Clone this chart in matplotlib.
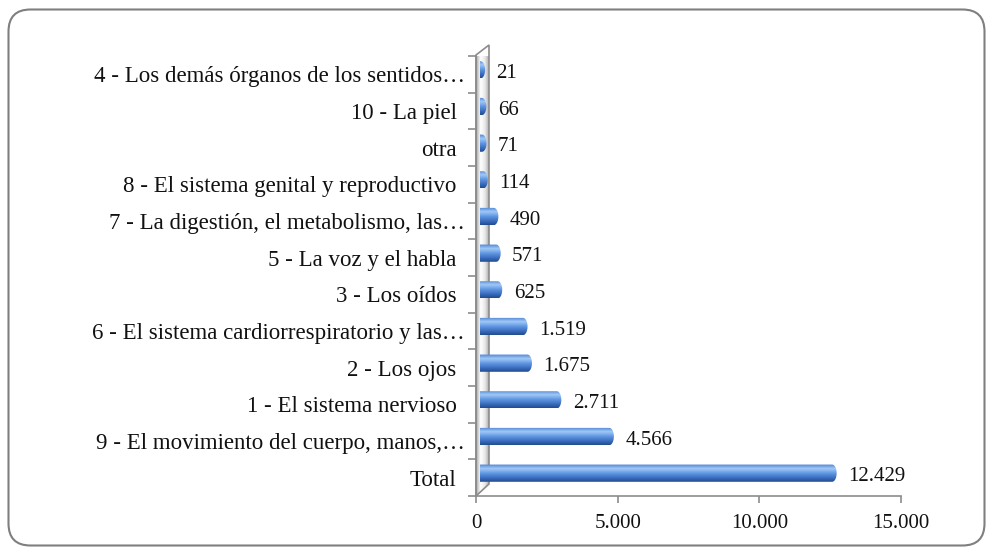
import numpy as np
import matplotlib
matplotlib.use("Agg")
import matplotlib.pyplot as plt
from matplotlib.patches import Polygon, FancyBboxPatch
from matplotlib.colors import LinearSegmentedColormap
from matplotlib.transforms import ScaledTranslation, IdentityTransform

plt.rcParams['font.family'] = ['Liberation Serif', 'DejaVu Serif']

categorias = [
    "Total",
    "9 - El movimiento del cuerpo, manos,…",
    "1 - El sistema nervioso",
    "2 - Los ojos",
    "6 - El sistema cardiorrespiratorio y las…",
    "3 - Los oídos",
    "5 - La voz y el habla",
    "7 - La digestión, el metabolismo, las…",
    "8 - El sistema genital y reproductivo",
    "otra",
    "10 - La piel",
    "4 - Los demás órganos de los sentidos…",
]
valores = [12429, 4566, 2711, 1675, 1519, 625, 571, 490, 114, 71, 66, 21]
xticks = [0, 5000, 10000, 15000]

W, H = 986, 548
fig = plt.figure(figsize=(W / 100, H / 100), dpi=100)
ax_l, ax_b, ax_w, ax_h = 476, 52, 425, 440
ax = fig.add_axes([ax_l / W, ax_b / H, ax_w / W, ax_h / H])
ax.patch.set_visible(False)

xmax = 15000
ax.set_xlim(0, xmax)
ax.set_ylim(-0.5, len(categorias) - 0.5)

# pseudo 3D offset of the bars (pixels)
off = ax.transData + ScaledTranslation(4 / 100, 4.5 / 100, fig.dpi_scale_trans)

bar_cmap = LinearSegmentedColormap.from_list(
    "barra", [(0, "#4a82d4"), (0.25, "#a2c9f6"), (0.5, "#6399e4"),
              (0.8, "#3769bb"), (1, "#224c8a")])
wall_cmap = LinearSegmentedColormap.from_list(
    "pared", [(0, "#a8a8a8"), (0.35, "#ffffff"), (0.7, "#e8e8e8"), (1, "#b0b0b0")])

grad = np.linspace(0, 1, 64).reshape(-1, 1)
h = 0.47
cap = 4.5 * xmax / ax_w  # half width of rounded end in data units

for i, v in enumerate(valores):
    t = np.linspace(-np.pi / 2, np.pi / 2, 40)
    verts = [(0, i - h / 2)] + list(zip(v + cap * np.cos(t), i + h / 2 * np.sin(t))) + [(0, i + h / 2)]
    poly = Polygon(verts, closed=True, facecolor="none", edgecolor="none", transform=off, zorder=3)
    ax.add_patch(poly)
    im = ax.imshow(grad, cmap=bar_cmap, aspect="auto", extent=[0, v + cap, i - h / 2, i + h / 2],
                   origin="upper", interpolation="bilinear", transform=off, zorder=3)
    im.set_clip_path(poly)
    ax.annotate(f"{v:,}".replace(",", "."), (v, i), xytext=(20 * 0.72, 0.5),
                textcoords="offset points", va="center", ha="left", fontsize=15, color="#111111")

# side wall
dx = 13 / ax_w
wall = [(0, 0), (dx, 12 / ax_h), (dx, 1 + 11 / ax_h), (0, 1 + 1 / ax_h)]
wp = Polygon(wall, closed=True, transform=ax.transAxes, facecolor="none",
             edgecolor="#8c8c8c", lw=1.2, zorder=2, clip_on=False)
ax.add_patch(wp)
wim = ax.imshow(np.linspace(0, 1, 32).reshape(1, -1), cmap=wall_cmap, aspect="auto",
                extent=[0, dx, 0, 1 + 11 / ax_h], transform=ax.transAxes, zorder=1.5)
wim.set_clip_path(wp)
ax.set_xlim(0, xmax)
ax.set_ylim(-0.5, len(categorias) - 0.5)

for s in ["top", "right"]:
    ax.spines[s].set_visible(False)
for s in ["left", "bottom"]:
    ax.spines[s].set_color("#8c8c8c")
    ax.spines[s].set_linewidth(1.2)

ax.set_yticks(range(len(categorias)))
ax.set_yticklabels(categorias, fontsize=16.5, color="#111111")
ax.set_yticks(np.arange(-0.5, len(categorias), 1), minor=True)
ax.tick_params(axis="y", which="major", length=0, pad=14)
ax.tick_params(axis="y", which="minor", length=6, width=1.2, color="#8c8c8c", direction="out")
ax.set_xticks(xticks)
ax.set_xticklabels([f"{x:,}".replace(",", ".") for x in xticks], fontsize=15, color="#111111")
ax.tick_params(axis="x", length=5, width=1.2, color="#8c8c8c", pad=8)

# truncated labels run a bit closer to the axis
for lab in ax.get_yticklabels():
    if lab.get_text().endswith("…"):
        lab.set_transform(lab.get_transform() + ScaledTranslation(8 / 100, 0, fig.dpi_scale_trans))

border = FancyBboxPatch((8.5, 2.5), 976, 536, boxstyle="round,pad=0,rounding_size=22",
                        transform=IdentityTransform(), facecolor="none", edgecolor="#7f7f7f", lw=1.5)
fig.add_artist(border)

fig.savefig("out.png", dpi=100)
